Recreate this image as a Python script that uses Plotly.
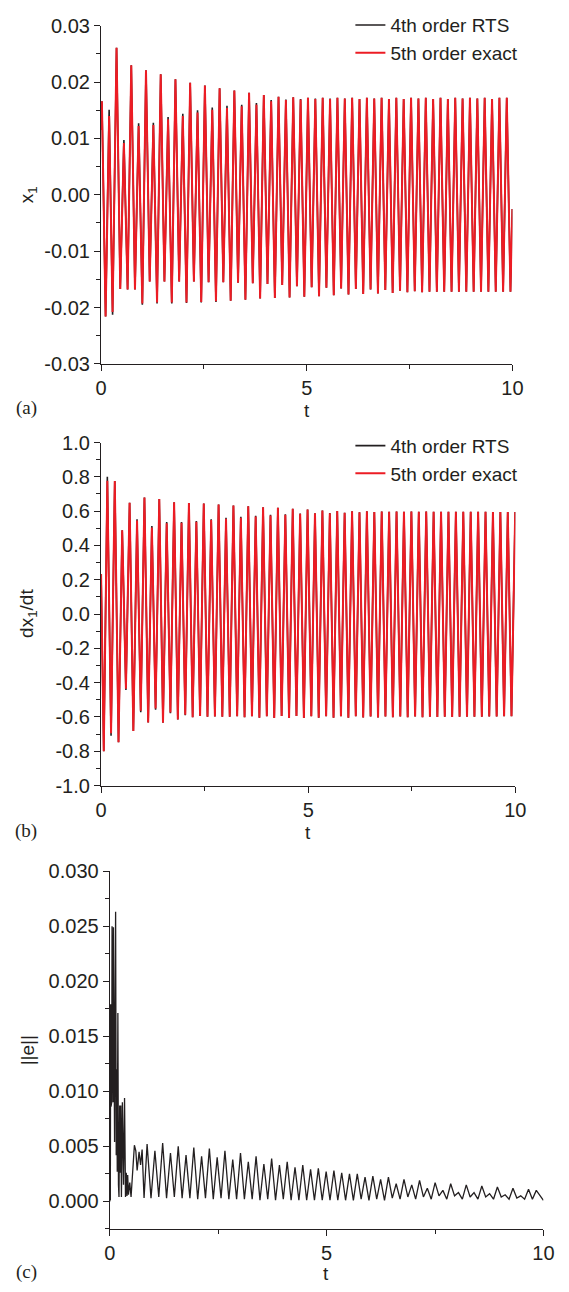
import plotly.graph_objects as go

W, H = 569, 1292

# ---------------- panel (a): x1 extrema ----------------
x1_start = [0.0, 0.0115]
x1_end = [10.0, -0.0025]

t_x1_peaks = [0.020, 0.196, 0.376, 0.555, 0.734, 0.913, 1.092, 1.271, 1.450, 1.629,
              1.808, 1.987, 2.166, 2.345, 2.524, 2.703, 2.882, 3.061, 3.240, 3.419,
              3.598, 3.777, 3.956, 4.135, 4.314, 4.493, 4.672, 4.851, 5.030, 5.209,
              5.388, 5.567, 5.746, 5.925, 6.104, 6.283, 6.462, 6.641, 6.820, 6.999,
              7.178, 7.357, 7.536, 7.715, 7.894, 8.073, 8.252, 8.431, 8.610, 8.789,
              8.968, 9.147, 9.326, 9.505, 9.684, 9.863]
x1_peaks_exact = [0.0166, 0.0140,
                  0.0261, 0.0092, 0.0230, 0.0122, 0.0221, 0.0124, 0.0214, 0.0134, 0.0205, 0.0140,
                  0.0199, 0.0146, 0.0194, 0.0151, 0.0189, 0.0154, 0.0185, 0.0157, 0.0181, 0.0160,
                  0.0177, 0.0166, 0.0174, 0.0168, 0.0173, 0.0169, 0.0172, 0.0170, 0.0172, 0.0170,
                  0.0172, 0.0171, 0.0172, 0.0170, 0.0172, 0.0171, 0.0172, 0.0170, 0.0172, 0.0170,
                  0.0172, 0.0171, 0.0172, 0.0170, 0.0172, 0.0170, 0.0172, 0.0171, 0.0172, 0.0171,
                  0.0172, 0.0170, 0.0172, 0.0172]
x1_peaks_rts = [0.0166, 0.0151,
                0.0261, 0.0097, 0.0230, 0.0127, 0.0221, 0.0128, 0.0214, 0.0138, 0.0205, 0.0144,
                0.0199, 0.0150, 0.0194, 0.0155, 0.0189, 0.0158, 0.0185, 0.0160, 0.0181, 0.0163,
                0.0177, 0.0168, 0.0174, 0.0169, 0.0173, 0.0170, 0.0172, 0.0171, 0.0172, 0.0171,
                0.0172, 0.0171, 0.0172, 0.0170, 0.0172, 0.0171, 0.0172, 0.0170, 0.0172, 0.0170,
                0.0172, 0.0171, 0.0172, 0.0170, 0.0172, 0.0170, 0.0172, 0.0171, 0.0172, 0.0171,
                0.0172, 0.0170, 0.0172, 0.0172]

t_x1_troughs = [0.110, 0.280, 0.466, 0.645, 0.824, 1.003, 1.182, 1.361, 1.540, 1.719,
                1.898, 2.077, 2.256, 2.435, 2.614, 2.793, 2.972, 3.151, 3.330, 3.509,
                3.688, 3.867, 4.046, 4.225, 4.404, 4.583, 4.762, 4.941, 5.120, 5.299,
                5.478, 5.657, 5.836, 6.015, 6.194, 6.373, 6.552, 6.731, 6.910, 7.089,
                7.268, 7.447, 7.626, 7.805, 7.984, 8.163, 8.342, 8.521, 8.700, 8.879,
                9.058, 9.237, 9.416, 9.595, 9.774, 9.953]
x1_troughs_exact = [-0.0216, -0.0208,
                    -0.0167, -0.0168, -0.0168, -0.0193, -0.0154, -0.0191, -0.0154, -0.0191, -0.0154, -0.0191,
                    -0.0154, -0.0190, -0.0155, -0.0189, -0.0155, -0.0188, -0.0156, -0.0186, -0.0157, -0.0184,
                    -0.0158, -0.0183, -0.0160, -0.0182, -0.0162, -0.0181, -0.0164, -0.0180, -0.0165, -0.0178,
                    -0.0166, -0.0177, -0.0167, -0.0176, -0.0168, -0.0175, -0.0169, -0.0174, -0.0170, -0.0173,
                    -0.0171, -0.0173, -0.0172, -0.0172, -0.0172, -0.0172, -0.0172, -0.0172, -0.0172, -0.0172,
                    -0.0172, -0.0172, -0.0172, -0.0172]
x1_troughs_rts = [-0.0216, -0.0213,
                  -0.0167, -0.0168, -0.0168, -0.0195, -0.0154, -0.0193, -0.0154, -0.0193, -0.0154, -0.0192,
                  -0.0154, -0.0191, -0.0155, -0.0190, -0.0155, -0.0188, -0.0156, -0.0186, -0.0157, -0.0184,
                  -0.0158, -0.0183, -0.0160, -0.0182, -0.0162, -0.0181, -0.0164, -0.0180, -0.0165, -0.0178,
                  -0.0166, -0.0177, -0.0167, -0.0176, -0.0168, -0.0175, -0.0169, -0.0174, -0.0170, -0.0173,
                  -0.0171, -0.0173, -0.0172, -0.0172, -0.0172, -0.0172, -0.0172, -0.0172, -0.0172, -0.0172,
                  -0.0172, -0.0172, -0.0172, -0.0172]

# ---------------- panel (b): dx1/dt extrema ----------------
dx1_start = [0.0, 0.233]

t_dx1_peaks = [0.151, 0.331, 0.510, 0.689, 0.868, 1.047, 1.226, 1.405, 1.584, 1.763,
               1.942, 2.121, 2.300, 2.479, 2.658, 2.837, 3.016, 3.195, 3.374, 3.553,
               3.732, 3.911, 4.090, 4.269, 4.448, 4.627, 4.806, 4.985, 5.164, 5.343,
               5.522, 5.701, 5.880, 6.059, 6.238, 6.417, 6.596, 6.775, 6.954, 7.133,
               7.312, 7.491, 7.670, 7.849, 8.028, 8.207, 8.386, 8.565, 8.744, 8.923,
               9.102, 9.281, 9.460, 9.639, 9.818, 9.997]
dx1_peaks_exact = [0.777, 0.775, 0.488, 0.649, 0.545, 0.680, 0.505, 0.670, 0.530, 0.652,
                   0.532, 0.648, 0.538, 0.645, 0.548, 0.639, 0.556, 0.633, 0.562, 0.628,
                   0.568, 0.623, 0.574, 0.619, 0.579, 0.614, 0.584, 0.609, 0.587, 0.604,
                   0.588, 0.601, 0.590, 0.599, 0.593, 0.599, 0.595, 0.598, 0.596, 0.598,
                   0.597, 0.598, 0.597, 0.598, 0.597, 0.597, 0.597, 0.597, 0.596, 0.596,
                   0.596, 0.596, 0.595, 0.595, 0.595, 0.595]
dx1_peaks_rts = [0.800, 0.775, 0.488, 0.649, 0.553, 0.680, 0.513, 0.670, 0.536, 0.652,
                 0.537, 0.648, 0.543, 0.645, 0.553, 0.639, 0.561, 0.633, 0.567, 0.628,
                 0.573, 0.623, 0.579, 0.619, 0.582, 0.614, 0.586, 0.609, 0.588, 0.604,
                 0.589, 0.601, 0.590, 0.599, 0.593, 0.599, 0.595, 0.598, 0.596, 0.598,
                 0.597, 0.598, 0.597, 0.598, 0.597, 0.597, 0.597, 0.597, 0.596, 0.596,
                 0.596, 0.596, 0.595, 0.595, 0.595, 0.595]

t_dx1_troughs = [0.065, 0.241, 0.421, 0.600, 0.779, 0.958, 1.137, 1.316, 1.495, 1.674,
                 1.853, 2.032, 2.211, 2.390, 2.569, 2.748, 2.927, 3.106, 3.285, 3.464,
                 3.643, 3.822, 4.001, 4.180, 4.359, 4.538, 4.717, 4.896, 5.075, 5.254,
                 5.433, 5.612, 5.791, 5.970, 6.149, 6.328, 6.507, 6.686, 6.865, 7.044,
                 7.223, 7.402, 7.581, 7.760, 7.939, 8.118, 8.297, 8.476, 8.655, 8.834,
                 9.013, 9.192, 9.371, 9.550, 9.729, 9.908]
dx1_troughs_exact = [-0.800, -0.695, -0.747, -0.435, -0.682, -0.563, -0.632, -0.551, -0.633, -0.574,
                     -0.615, -0.587, -0.602, -0.594, -0.598, -0.597, -0.598, -0.598, -0.596, -0.601,
                     -0.595, -0.605, -0.595, -0.606, -0.594, -0.606, -0.594, -0.606, -0.595, -0.605,
                     -0.595, -0.604, -0.596, -0.604, -0.596, -0.603, -0.597, -0.603, -0.597, -0.602,
                     -0.597, -0.601, -0.597, -0.601, -0.598, -0.600, -0.598, -0.600, -0.598, -0.599,
                     -0.598, -0.598, -0.597, -0.597, -0.596, -0.596]
dx1_troughs_rts = [-0.800, -0.709, -0.747, -0.442, -0.682, -0.572, -0.632, -0.558, -0.633, -0.578,
                   -0.615, -0.590, -0.602, -0.594, -0.598, -0.597, -0.598, -0.598, -0.596, -0.601,
                   -0.595, -0.605, -0.595, -0.606, -0.594, -0.606, -0.594, -0.606, -0.595, -0.605,
                   -0.595, -0.604, -0.596, -0.604, -0.596, -0.603, -0.597, -0.603, -0.597, -0.602,
                   -0.597, -0.601, -0.597, -0.601, -0.598, -0.600, -0.598, -0.600, -0.598, -0.599,
                   -0.598, -0.598, -0.597, -0.597, -0.596, -0.596]

# ---------------- panel (c): ||e|| ----------------
t_err_early = [0.000, 0.006, 0.012, 0.020, 0.028, 0.036, 0.044, 0.052, 0.060, 0.068,
               0.076, 0.084, 0.092, 0.100, 0.110, 0.122, 0.134, 0.148, 0.160, 0.172,
               0.186, 0.200, 0.212, 0.228, 0.240, 0.254, 0.268, 0.290, 0.316, 0.340,
               0.362, 0.380, 0.396, 0.412, 0.430, 0.460, 0.490, 0.567, 0.600, 0.630,
               0.675, 0.710, 0.745, 0.790]
err_early = [0.0000, 0.0018, 0.0001, 0.0179, 0.0086, 0.0178, 0.0090, 0.0250, 0.0100, 0.0250,
             0.0090, 0.0249, 0.0110, 0.0249, 0.0054, 0.0170, 0.0263, 0.0042, 0.0120, 0.0027,
             0.0171, 0.0015, 0.0004, 0.0087, 0.0026, 0.0087, 0.0004, 0.0090, 0.0015, 0.0094,
             0.0004, 0.0026, 0.0005, 0.0024, 0.0006, 0.0017, 0.0004, 0.0051, 0.0046, 0.0028,
             0.0045, 0.0033, 0.0047, 0.0003]
t_err_peaks = [0.860, 1.040, 1.219, 1.399, 1.578, 1.758, 1.937, 2.117, 2.296, 2.476,
               2.655, 2.835, 3.014, 3.194, 3.373, 3.553, 3.732, 3.912, 4.091, 4.271,
               4.450, 4.630, 4.809, 4.989, 5.168, 5.348, 5.527, 5.707, 5.886, 6.066,
               6.245, 6.425, 6.604, 6.784, 6.963, 7.143, 7.322, 7.502, 7.681, 7.861,
               8.040, 8.220, 8.399, 8.579, 8.758, 8.938, 9.117, 9.297, 9.476, 9.656,
               9.835]
err_peaks = [0.0052, 0.0046, 0.0053, 0.0044, 0.0050, 0.0042, 0.0049, 0.0041, 0.0048, 0.0040,
             0.0046, 0.0038, 0.0044, 0.0036, 0.0041, 0.0034, 0.0039, 0.0033, 0.0036, 0.0031,
             0.0033, 0.0029, 0.0030, 0.0027, 0.0028, 0.0026, 0.0025, 0.0025, 0.0022, 0.0023,
             0.0020, 0.0022, 0.0016, 0.0020, 0.0015, 0.0019, 0.0012, 0.0017, 0.0010, 0.0016,
             0.0008, 0.0015, 0.0008, 0.0014, 0.0007, 0.0013, 0.0006, 0.0012, 0.0005, 0.0011,
             0.0010]
t_err_cusps = [0.950, 1.129, 1.309, 1.488, 1.668, 1.847, 2.027, 2.206, 2.386, 2.565,
               2.745, 2.924, 3.104, 3.283, 3.463, 3.642, 3.822, 4.001, 4.181, 4.360,
               4.540, 4.719, 4.899, 5.078, 5.258, 5.437, 5.617, 5.796, 5.976, 6.155,
               6.335, 6.514, 6.694, 6.873, 7.053, 7.232, 7.412, 7.591, 7.771, 7.950,
               8.130, 8.309, 8.489, 8.668, 8.848, 9.027, 9.207, 9.386, 9.566, 9.745]
err_cusps = [0.0003, 0.0004, 0.0003, 0.0004, 0.0003, 0.0003, 0.0002, 0.0003, 0.0002, 0.0003,
             0.0002, 0.0002, 0.0002, 0.0002, 0.0001, 0.0002, 0.0001, 0.0002, 0.0001, 0.0001,
             0.0001, 0.0001, 0.0001, 0.0001, 0.0001, 0.0001, 0.0001, 0.0002, 0.0001, 0.0002,
             0.0001, 0.0003, 0.0002, 0.0004, 0.0002, 0.0004, 0.0002, 0.0005, 0.0002, 0.0005,
             0.0002, 0.0004, 0.0002, 0.0004, 0.0002, 0.0004, 0.0002, 0.0003, 0.0002, 0.0002]
err_end = [10.0, 0.0001]

# ---------------- tick labels ----------------
t_ticks = [0, 5, 10]
t_ticktext = ["0", "5", "10"]
x1_ticks = [-0.03, -0.02, -0.01, 0.0, 0.01, 0.02, 0.03]
x1_ticktext = ["-0.03", "-0.02", "-0.01", "0.00", "0.01", "0.02", "0.03"]
dx1_ticks = [-1.0, -0.8, -0.6, -0.4, -0.2, 0.0, 0.2, 0.4, 0.6, 0.8, 1.0]
dx1_ticktext = ["-1.0", "-0.8", "-0.6", "-0.4", "-0.2", "0.0", "0.2", "0.4", "0.6", "0.8", "1.0"]
err_ticks = [0.0, 0.005, 0.010, 0.015, 0.020, 0.025, 0.030]
err_ticktext = ["0.000", "0.005", "0.010", "0.015", "0.020", "0.025", "0.030"]

series_names = ["4th order RTS", "5th order exact"]


def merge(*groups):
    pts = []
    for ts, vs in groups:
        pts.extend(zip(ts, vs))
    pts.sort(key=lambda p: p[0])
    return [p[0] for p in pts], [p[1] for p in pts]


ta_rts, xa_rts = merge(([x1_start[0]], [x1_start[1]]), (t_x1_peaks, x1_peaks_rts),
                       (t_x1_troughs, x1_troughs_rts), ([x1_end[0]], [x1_end[1]]))
ta_ex, xa_ex = merge(([x1_start[0]], [x1_start[1]]), (t_x1_peaks, x1_peaks_exact),
                     (t_x1_troughs, x1_troughs_exact), ([x1_end[0]], [x1_end[1]]))
tb_rts, xb_rts = merge(([dx1_start[0]], [dx1_start[1]]), (t_dx1_peaks, dx1_peaks_rts),
                       (t_dx1_troughs, dx1_troughs_rts))
tb_ex, xb_ex = merge(([dx1_start[0]], [dx1_start[1]]), (t_dx1_peaks, dx1_peaks_exact),
                     (t_dx1_troughs, dx1_troughs_exact))
tc, ec = merge((t_err_early, err_early), (t_err_peaks, err_peaks),
               (t_err_cusps, err_cusps), ([err_end[0]], [err_end[1]]))

BLACK = "rgb(35,31,32)"
RED = "rgb(236,28,36)"
FONT = "Liberation Sans, Arial, sans-serif"
SERIF = "Liberation Serif, Times New Roman, serif"
INK = "#231f20"


def px(x):
    return x / W


def py(y):
    return 1 - y / H


fig = go.Figure()
fig.add_trace(go.Scatter(x=ta_rts, y=xa_rts, mode="lines", name=series_names[0],
                         line=dict(color=BLACK, width=1.6), xaxis="x", yaxis="y", legend="legend"))
fig.add_trace(go.Scatter(x=ta_ex, y=xa_ex, mode="lines", name=series_names[1],
                         line=dict(color=RED, width=2.0), xaxis="x", yaxis="y", legend="legend"))
fig.add_trace(go.Scatter(x=tb_rts, y=xb_rts, mode="lines", name=series_names[0],
                         line=dict(color=BLACK, width=1.6), xaxis="x2", yaxis="y2", legend="legend2"))
fig.add_trace(go.Scatter(x=tb_ex, y=xb_ex, mode="lines", name=series_names[1],
                         line=dict(color=RED, width=2.0), xaxis="x2", yaxis="y2", legend="legend2"))
fig.add_trace(go.Scatter(x=tc, y=ec, mode="lines", showlegend=False,
                         line=dict(color=BLACK, width=1.3), xaxis="x3", yaxis="y3"))


def axis_common():
    return dict(showline=True, linecolor=INK, linewidth=1.3, ticks="outside", ticklen=6,
                tickwidth=1.3, tickcolor=INK, showgrid=False, zeroline=False, fixedrange=True,
                tickfont=dict(family=FONT, size=20, color=INK), tickmode="array")


def xax(dom, anchor):
    d = axis_common()
    d.update(domain=dom, anchor=anchor, range=[0, 10], tickvals=t_ticks, ticktext=t_ticktext,
             minor=dict(tickmode="linear", tick0=0, dtick=2.5, ticks="outside", ticklen=4,
                        tickwidth=1.2, tickcolor=INK, showgrid=False))
    return d


def yax(dom, anchor, rng, vals, text, minor_dt):
    d = axis_common()
    d.update(domain=dom, anchor=anchor, range=rng, tickvals=vals, ticktext=text,
             minor=dict(tickmode="linear", tick0=0, dtick=minor_dt, ticks="outside", ticklen=4,
                        tickwidth=1.2, tickcolor=INK, showgrid=False))
    return d


legend_style = dict(font=dict(family=FONT, size=19, color=INK), bgcolor="rgba(0,0,0,0)",
                    borderwidth=0, xanchor="left", yanchor="top", tracegroupgap=0)

fig.update_layout(
    width=W, height=H, margin=dict(l=0, r=0, t=0, b=0), autosize=False,
    paper_bgcolor="white", plot_bgcolor="white",
    xaxis=xax([px(98), px(522)], "y"),
    yaxis=yax([py(359), py(15)], "x", [-0.03, 0.03], x1_ticks, x1_ticktext, 0.005),
    xaxis2=xax([px(98), px(525)], "y2"),
    yaxis2=yax([py(788), py(439)], "x2", [-1.0, 1.0], dx1_ticks, dx1_ticktext, 0.1),
    xaxis3=xax([px(107), px(554)], "y3"),
    yaxis3=yax([py(1239), py(875)], "x3", [-0.0025, 0.030], err_ticks, err_ticktext, 0.0025),
    legend=dict(x=px(355), y=py(-5), **legend_style),
    legend2=dict(x=px(355), y=py(423), **legend_style),
)

annots = [
    ("x<sub>1</sub>", 22, 187, -90, FONT),
    ("dx<sub>1</sub>/dt", 22, 613, -90, FONT),
    ("||e||", 22, 1057, -90, FONT),
    ("t", 310, 406, 0, FONT),
    ("t", 311, 836, 0, FONT),
    ("t", 330, 1284, 0, FONT),
    ("(a)", 21, 404, 0, SERIF),
    ("(b)", 21, 834, 0, SERIF),
    ("(c)", 21, 1283, 0, SERIF),
]
for text, x, y, ang, fam in annots:
    fig.add_annotation(text=text, x=px(x), y=py(y), xref="paper", yref="paper",
                       xanchor="center", yanchor="middle", showarrow=False, textangle=ang,
                       font=dict(family=fam, size=19, color=INK))

fig.write_html("out.html")
